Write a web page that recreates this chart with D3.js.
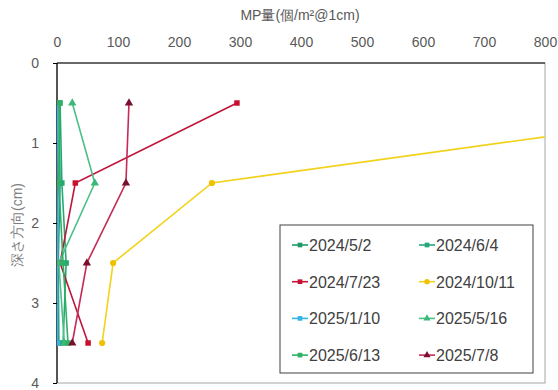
<!DOCTYPE html>
<html><head><meta charset="utf-8">
<script src="https://cdn.jsdelivr.net/npm/d3@7"></script>
<style>body{margin:0;background:#fff}svg{display:block}text{font-family:"Liberation Sans",Arial,sans-serif}</style>
</head><body><svg id="c" width="558" height="390"></svg>
<script>
const depths = [0.5, 1.5, 2.5, 3.5];
const seriesNames = ["2024/5/2","2024/6/4","2024/7/23","2024/10/11","2025/1/10","2025/5/16","2025/6/13","2025/7/8"];
const v20240502 = [3, 5, 2, 3];
const v20240604 = [5, 8, 15, 10];
const v20240723 = [295, 30, 5, 51];
const v20241011 = [1200, 254, 92, 74];
const v20250110 = [1, 2, 1, 1];
const v20250516 = [25, 62, 3, 12];
const v20250613 = [4, 3, 10, 18];
const v20250708 = [118, 113, 49, 25];
const xTicks = [0,100,200,300,400,500,600,700,800];
const yTicks = [0,1,2,3,4];

const values = [v20240502,v20240604,v20240723,v20241011,v20250110,v20250516,v20250613,v20250708];
const colors = ["#1e9966","#24a878","#c0143c","#f2d21a","#35b5e5","#4cc088","#2fb062","#c62a55"];
const markerCol = ["#1e9966","#24a878","#c8102e","#f0c000","#35b5e5","#3cb878","#2fb062","#7a1030"];
const shapes = [d3.symbolSquare,d3.symbolSquare,d3.symbolSquare,d3.symbolCircle,d3.symbolSquare,d3.symbolTriangle,d3.symbolSquare,d3.symbolTriangle];

const svg = d3.select("#c");
const L=57,R=545,T=63,B=383;
const x = d3.scaleLinear().domain([0,800]).range([L,R]);
const y = d3.scaleLinear().domain([0,4]).range([T,B]);

svg.append("defs").append("clipPath").attr("id","clip").append("rect")
  .attr("x",L).attr("y",T).attr("width",R-L).attr("height",B-T);

// frame
svg.append("rect").attr("x",L).attr("y",T).attr("width",R-L).attr("height",B-T)
  .attr("fill","none").attr("stroke","#a6a6a6").attr("stroke-width",1);
svg.append("line").attr("x1",L).attr("x2",R).attr("y1",T).attr("y2",T).attr("stroke","#000").attr("stroke-width",1.2);
svg.append("line").attr("x1",L).attr("x2",L).attr("y1",T).attr("y2",B).attr("stroke","#000").attr("stroke-width",1.2);

// axes
const xa = svg.append("g").attr("transform",`translate(0,${T})`)
  .call(d3.axisTop(x).tickValues(xTicks).tickSize(0).tickPadding(16));
xa.select(".domain").remove();
xa.selectAll("text").attr("font-size",14).attr("fill","#595959").attr("font-family","Liberation Sans, Arial, sans-serif");
const ya = svg.append("g").attr("transform",`translate(${L},0)`)
  .call(d3.axisLeft(y).tickValues(yTicks).tickFormat(d3.format("d")).tickSize(4).tickPadding(14));
ya.select(".domain").remove();
ya.selectAll("line").attr("stroke","#000");
ya.selectAll("text").attr("font-size",14).attr("fill","#595959").attr("font-family","Liberation Sans, Arial, sans-serif");

svg.append("text").attr("x",300).attr("y",20).attr("text-anchor","middle")
  .attr("font-size",14).attr("fill","#595959").text("MP量(個/m²@1cm)");
svg.append("text").attr("transform","translate(22,225) rotate(-90)").attr("text-anchor","middle")
  .attr("font-size",14).attr("fill","#7f7f7f").attr("font-family","Noto Sans CJK JP, Liberation Sans, sans-serif").text("深さ方向(cm)");

const line = d3.line().x(d=>x(d[0])).y(d=>y(d[1]));
const plot = svg.append("g").attr("clip-path","url(#clip)");
values.forEach((vals,i)=>{
  const pts = vals.map((v,j)=>[v,depths[j]]);
  plot.append("path").attr("d",line(pts)).attr("fill","none").attr("stroke",colors[i]).attr("stroke-width",1.6);
});
values.forEach((vals,i)=>{
  vals.forEach((v,j)=>{
    plot.append("path").attr("d",d3.symbol().type(shapes[i]).size(30)())
      .attr("transform",`translate(${x(v)},${y(depths[j])})`).attr("fill",markerCol[i]);
  });
});

// legend
svg.append("rect").attr("x",280).attr("y",225).attr("width",253).attr("height",148)
  .attr("fill","#fff").attr("stroke","#404040").attr("stroke-width",1);
seriesNames.forEach((n,i)=>{
  const col = i%2, row = Math.floor(i/2);
  const lx = col===0 ? 292 : 419, ly = 245 + row*36.7;
  const g = svg.append("g");
  g.append("line").attr("x1",lx).attr("x2",lx+16).attr("y1",ly).attr("y2",ly).attr("stroke",colors[i]).attr("stroke-width",1.6);
  g.append("path").attr("d",d3.symbol().type(shapes[i]).size(22)()).attr("transform",`translate(${lx+8},${ly})`).attr("fill",markerCol[i]);
  g.append("text").attr("x",lx+17).attr("y",ly+6).attr("font-size",16).attr("fill","#404040").text(n);
});
</script></body></html>
